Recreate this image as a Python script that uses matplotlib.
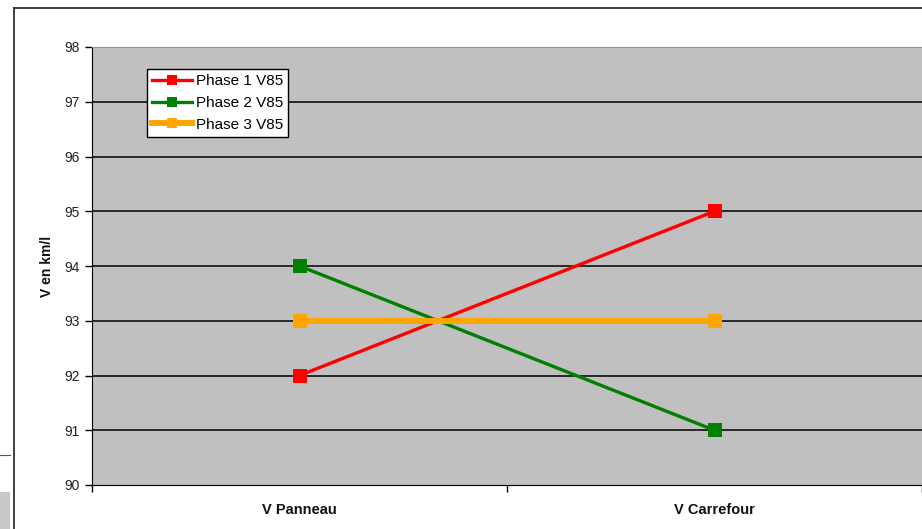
import matplotlib
matplotlib.use("Agg")
import matplotlib.pyplot as plt
from matplotlib.patches import Rectangle
from matplotlib.lines import Line2D

# V85 speeds per measurement point and phase
categories = ["V Panneau", "V Carrefour"]
phase1 = [92, 95]
phase2 = [94, 91]
phase3 = [93, 93]
series = [("Phase 1 V85", phase1, "#ff0000", 2.4),
          ("Phase 2 V85", phase2, "#008000", 2.4),
          ("Phase 3 V85", phase3, "#ffa500", 4.3)]
yticks = list(range(90, 99))

plt.rcParams["font.family"] = ["Liberation Sans", "DejaVu Sans"]
W, H = 922, 529
fig = plt.figure(figsize=(W / 100, H / 100), dpi=100)

# page frame and stray page elements around the chart
fig.add_artist(Line2D([14 / W, 14 / W], [0, 1 - 8 / H], color="#333333", lw=1.3))
fig.add_artist(Line2D([14 / W, 1], [1 - 8 / H, 1 - 8 / H], color="#333333", lw=1.3))
fig.add_artist(Line2D([0, 10 / W], [1 - 455 / H, 1 - 455 / H], color="#555555", lw=0.8))
fig.add_artist(Rectangle((0, 0), 10 / W, (529 - 492) / H, transform=fig.transFigure,
                         facecolor="#c8c8c8", edgecolor="none"))

ax = fig.add_axes([92 / W, 1 - 485 / H, (922 - 92) / W, (485 - 47) / H])
ax.set_facecolor("#c0c0c0")
ax.set_xlim(0, 2)
ax.set_ylim(90, 98)
for y in yticks[1:-1]:
    ax.axhline(y, color="black", lw=1.1, zorder=1)

xs = [i + 0.5 for i in range(len(categories))]
for label, vals, color, lw in series:
    ax.plot(xs, vals, color=color, lw=lw, marker="s", markersize=10,
            markeredgewidth=0, label=label, zorder=3)

ax.set_yticks(yticks)
ax.set_yticklabels([str(v) for v in yticks], fontsize=10, color="#222222")
ax.set_xticks([0, 1, 2])
ax.set_xticklabels([])
ax.set_xticks(xs, minor=True)
ax.set_xticklabels(categories, minor=True, fontsize=10.5, fontweight="bold",
                   color="#111111")
ax.tick_params(axis="x", which="minor", length=0, pad=13)
ax.tick_params(axis="x", which="major", length=5, width=1, direction="out")
ax.tick_params(axis="y", length=5, width=1, direction="out", pad=4)
ax.set_ylabel("V en km/l", fontsize=10, fontweight="bold", labelpad=7,
              color="#111111")

ax.spines["left"].set_color("black")
ax.spines["bottom"].set_color("black")
ax.spines["top"].set_color("#909090")
ax.spines["right"].set_visible(False)

leg = ax.legend(loc="upper left", bbox_to_anchor=(55 / 830, 1 - 22 / 438),
                fontsize=11, frameon=True, fancybox=False, framealpha=1,
                edgecolor="black", handlelength=2.6, handletextpad=0.25,
                borderpad=0.35, labelspacing=0.5, borderaxespad=0,
                markerscale=0.75)
leg.get_frame().set_linewidth(1.0)

fig.savefig("out.png", dpi=100, facecolor="white")
